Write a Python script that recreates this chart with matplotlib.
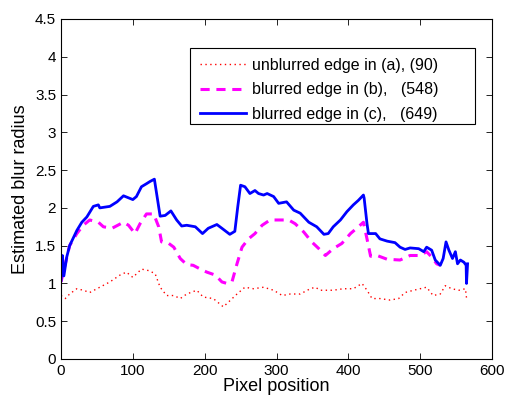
import matplotlib
matplotlib.use("Agg")
import matplotlib.pyplot as plt
from matplotlib.patches import Rectangle

plt.rcParams['font.family'] = ['Liberation Sans', 'DejaVu Sans']

# blurred edge in (c)
xc = [0, 2, 4, 8, 12, 22, 29, 36, 45, 52, 54, 68, 78, 87, 100, 105, 112, 119, 124, 130,
      138, 145, 153, 161, 168, 175, 187, 197, 205, 217, 224, 235, 242, 246, 250, 256,
      263, 270, 275, 282, 287, 296, 303, 314, 324, 333, 345, 356, 366, 372, 379, 389,
      398, 407, 414, 421, 422, 426, 428, 438, 444, 454, 465, 472, 479, 486, 498, 505,
      509, 516, 521, 528, 532, 536, 540, 545, 549, 552, 556, 561, 564, 564.5, 566]
yc = [1.04, 1.37, 1.1, 1.35, 1.5, 1.70, 1.81, 1.88, 2.02, 2.04, 2.0, 2.02, 2.08, 2.16,
      2.11, 2.15, 2.28, 2.32, 2.35, 2.38, 1.89, 1.90, 1.96, 1.84, 1.76, 1.77, 1.75,
      1.66, 1.73, 1.78, 1.73, 1.65, 1.69, 2.01, 2.30, 2.28, 2.19, 2.23, 2.19, 2.17,
      2.19, 2.15, 2.06, 2.08, 1.97, 1.93, 1.81, 1.75, 1.65, 1.66, 1.75, 1.84, 1.95,
      2.04, 2.10, 2.17, 2.13, 1.79, 1.66, 1.66, 1.59, 1.56, 1.54, 1.48, 1.45, 1.47,
      1.46, 1.42, 1.48, 1.44, 1.31, 1.24, 1.33, 1.55, 1.44, 1.33, 1.42, 1.26, 1.31,
      1.28, 1.24, 1.0, 1.26]

# blurred edge in (b)
xb = [0, 6, 12, 22, 31, 40, 52, 59, 71, 87, 94, 103, 110, 119, 129, 136, 140, 150, 157,
      166, 175, 184, 194, 203, 215, 224, 231, 238, 245, 252, 261, 270, 280, 291, 305,
      317, 326, 338, 349, 359, 368, 379, 391, 403, 414, 421, 426, 431, 440, 454, 472,
      486, 500, 509, 516, 523, 528]
yb = [1.02, 1.26, 1.5, 1.66, 1.77, 1.84, 1.81, 1.75, 1.73, 1.81, 1.77, 1.66, 1.79, 1.92,
      1.92, 1.75, 1.55, 1.53, 1.48, 1.33, 1.25, 1.24, 1.19, 1.15, 1.11, 1.02, 1.0, 1.02,
      1.26, 1.48, 1.59, 1.66, 1.77, 1.84, 1.84, 1.84, 1.79, 1.68, 1.55, 1.46, 1.37,
      1.46, 1.53, 1.66, 1.75, 1.81, 1.59, 1.36, 1.37, 1.32, 1.31, 1.37, 1.37, 1.42,
      1.35, 1.26, 1.24]

# unblurred edge in (a)
xa = [0, 6, 12, 22, 31, 40, 54, 68, 82, 91, 100, 112, 122, 131, 138, 147, 157, 166, 175,
      189, 198, 212, 226, 235, 245, 256, 268, 282, 296, 308, 319, 333, 347, 354, 361,
      379, 393, 407, 419, 426, 433, 444, 458, 470, 479, 491, 500, 509, 518, 528, 535,
      544, 554, 563, 565]
ya = [0.84, 0.80, 0.86, 0.93, 0.91, 0.88, 0.95, 1.02, 1.11, 1.15, 1.08, 1.19, 1.17, 1.13,
      0.95, 0.84, 0.84, 0.80, 0.86, 0.91, 0.82, 0.80, 0.69, 0.77, 0.86, 0.95, 0.93,
      0.95, 0.91, 0.84, 0.86, 0.86, 0.93, 0.95, 0.91, 0.91, 0.93, 0.93, 1.0, 0.91,
      0.80, 0.80, 0.78, 0.80, 0.88, 0.91, 0.93, 0.95, 0.84, 0.86, 0.97, 0.93, 0.91,
      0.93, 0.77]

labels = ['unblurred edge in (a), (90)',
          'blurred edge in (b),   (548)',
          'blurred edge in (c),   (649)']

fig = plt.figure(figsize=(5.05, 3.98), dpi=100)
ax = fig.add_axes([61/505, 39/398, 431/505, 340/398])

ax.plot(xa, ya, color='red', linestyle=(0, (1, 2.5)), linewidth=1.0, label=labels[0])
ax.plot(xb, yb, color='magenta', linestyle=(0, (3, 2.2)), linewidth=2.2, label=labels[1])
ax.plot(xc, yc, color='blue', linestyle='-', linewidth=2.0, label=labels[2])

ax.set_xlim(0, 600)
ax.set_ylim(0, 4.5)
ax.set_xticks(range(0, 601, 100))
ax.set_yticks([0, 0.5, 1, 1.5, 2, 2.5, 3, 3.5, 4, 4.5])
ax.set_yticklabels(['0', '0.5', '1', '1.5', '2', '2.5', '3', '3.5', '4', '4.5'])
ax.tick_params(direction='in', top=True, right=True, labelsize=11, length=4, width=0.6)
for s in ax.spines.values():
    s.set_linewidth(0.8)

ax.set_xlabel('Pixel position', fontsize=13, labelpad=0)
ax.set_ylabel('Estimated blur radius', fontsize=13, labelpad=4)

# MATLAB-style legend box, wider than its contents
x0, x1, y0, y1 = 0.2993, 0.9606, 0.6912, 0.9147
ax.add_patch(Rectangle((x0, y0), x1 - x0, y1 - y0, transform=ax.transAxes,
                       facecolor='white', edgecolor='black', linewidth=0.8, zorder=4))
leg = ax.legend(loc='upper left', bbox_to_anchor=(x0, y1), borderaxespad=0,
                fontsize=11.5, frameon=False, handlelength=2.9, handletextpad=0.4,
                borderpad=0.6, labelspacing=0.6)
leg.set_zorder(5)

fig.savefig('out.png', dpi=100)
